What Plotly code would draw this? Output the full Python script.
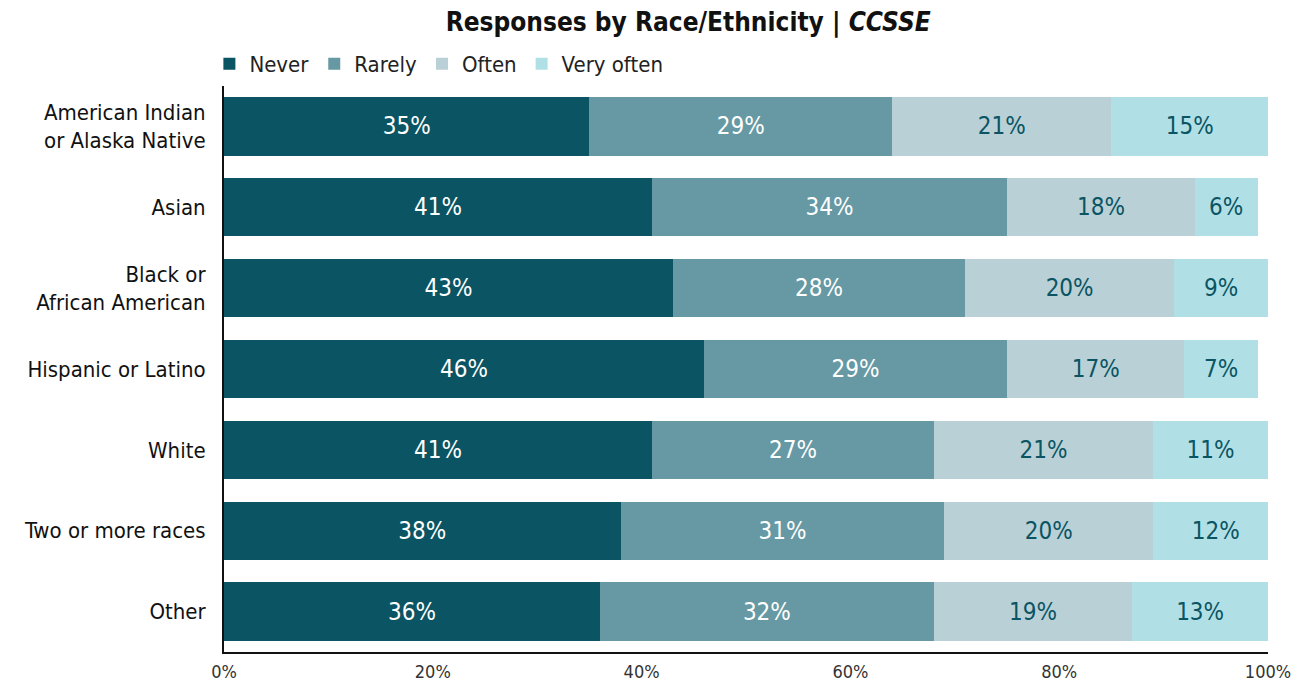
import plotly.graph_objects as go

categories = [
    "American Indian<br>or Alaska Native",
    "Asian",
    "Black or<br>African American",
    "Hispanic or Latino",
    "White",
    "Two or more races",
    "Other",
]
never = [35, 41, 43, 46, 41, 38, 36]
rarely = [29, 34, 28, 29, 27, 31, 32]
often = [21, 18, 20, 17, 21, 20, 19]
very_often = [15, 6, 9, 7, 11, 12, 13]

series = [
    ("Never", never, "#0a5463", "#ffffff"),
    ("Rarely", rarely, "#6699a3", "#ffffff"),
    ("Often", often, "#b9d1d6", "#0a5463"),
    ("Very often", very_often, "#b0e0e5", "#0a5463"),
]

FONT = "Liberation Sans Narrow, DejaVu Sans Condensed, Roboto, sans-serif"

fig = go.Figure()
for name, vals, color, tcolor in series:
    fig.add_trace(go.Bar(
        y=categories,
        x=vals,
        name=name,
        orientation="h",
        marker=dict(color=color, line=dict(width=0)),
        text=[f"{v}%" for v in vals],
        textposition="inside",
        insidetextanchor="middle",
        textfont=dict(color=tcolor, size=24, family=FONT),
        width=0.72,
    ))

fig.update_layout(
    barmode="stack",
    width=1311,
    height=684,
    margin=dict(l=224, r=43, t=86, b=32),
    paper_bgcolor="white",
    plot_bgcolor="white",
    font=dict(family=FONT, color="#222222"),
    title=dict(
        text="<b>Responses by Race/Ethnicity | <i>CCSSE</i></b>",
        x=0.525, xanchor="center",
        y=1 - 22 / 684, yanchor="middle",
        font=dict(size=26, color="#111111", family=FONT),
    ),
    legend=dict(
        orientation="h",
        x=-0.014, xanchor="left",
        y=1 + 22 / 566, yanchor="middle",
        font=dict(size=22, color="#222222", family=FONT),
        traceorder="normal",
        itemsizing="constant",
        itemwidth=30,
    ),
    uniformtext=dict(mode=False),
)

fig.update_xaxes(
    range=[0, 100],
    tickvals=[0, 20, 40, 60, 80, 100],
    ticktext=["0%", "20%", "40%", "60%", "80%", "100%"],
    tickfont=dict(size=18, color="#333333", family=FONT),
    showgrid=False,
    zeroline=False,
    showline=True,
    linecolor="#111111",
    linewidth=2,
    ticks="",
    ticklabelstandoff=2,
    automargin=False,
)
fig.update_yaxes(
    autorange="reversed",
    tickfont=dict(size=22, color="#111111", family=FONT),
    showgrid=False,
    showline=True,
    linecolor="#111111",
    linewidth=2,
    ticks="",
    ticklabelstandoff=12,
    automargin=False,
)

fig.write_html("out.html")
